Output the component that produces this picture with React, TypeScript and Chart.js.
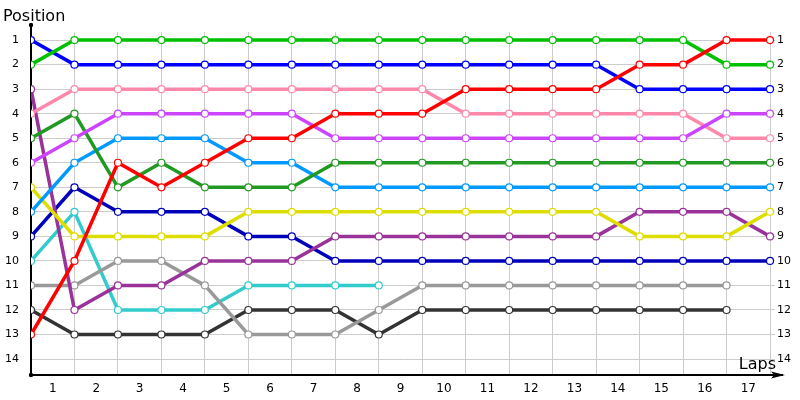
import React, { useEffect, useRef } from 'react';
import { Chart, registerables } from 'chart.js';

Chart.register(...registerables);

// ---- Data ----
const laps = [0, 1, 2, 3, 4, 5, 6, 7, 8, 9, 10, 11, 12, 13, 14, 15, 16, 17];
const lapLabels = ['1', '2', '3', '4', '5', '6', '7', '8', '9', '10', '11', '12', '13', '14', '15', '16', '17'];
const positionTicks = [1, 2, 3, 4, 5, 6, 7, 8, 9, 10, 11, 12, 13, 14];

const redSeries = [13, 10, 6, 7, 6, 5, 5, 4, 4, 4, 3, 3, 3, 3, 2, 2, 1, 1];
const greenSeries = [2, 1, 1, 1, 1, 1, 1, 1, 1, 1, 1, 1, 1, 1, 1, 1, 2, 2];
const blueSeries = [1, 2, 2, 2, 2, 2, 2, 2, 2, 2, 2, 2, 2, 2, 3, 3, 3, 3];
const violetSeries = [6, 5, 4, 4, 4, 4, 4, 5, 5, 5, 5, 5, 5, 5, 5, 5, 4, 4];
const pinkSeries = [4, 3, 3, 3, 3, 3, 3, 3, 3, 3, 4, 4, 4, 4, 4, 4, 5, 5];
const darkGreenSeries = [5, 4, 7, 6, 7, 7, 7, 6, 6, 6, 6, 6, 6, 6, 6, 6, 6, 6];
const skySeries = [8, 6, 5, 5, 5, 6, 6, 7, 7, 7, 7, 7, 7, 7, 7, 7, 7, 7];
const yellowSeries = [7, 9, 9, 9, 9, 8, 8, 8, 8, 8, 8, 8, 8, 8, 9, 9, 9, 8];
const purpleSeries = [3, 12, 11, 11, 10, 10, 10, 9, 9, 9, 9, 9, 9, 9, 8, 8, 8, 9];
const navySeries = [9, 7, 8, 8, 8, 9, 9, 10, 10, 10, 10, 10, 10, 10, 10, 10, 10, 10];
const graySeries = [11, 11, 10, 10, 11, 13, 13, 13, 12, 11, 11, 11, 11, 11, 11, 11, 11, null];
const darkSeries = [12, 13, 13, 13, 13, 12, 12, 12, 13, 12, 12, 12, 12, 12, 12, 12, 12, null];
const cyanSeries = [10, 8, 12, 12, 12, 11, 11, 11, 11, null, null, null, null, null, null, null, null, null];

const seriesList = [
  { name: 'Red', color: '#ff0000', data: redSeries },
  { name: 'Green', color: '#00c000', data: greenSeries },
  { name: 'Blue', color: '#0000ff', data: blueSeries },
  { name: 'Violet', color: '#cc44ff', data: violetSeries },
  { name: 'Pink', color: '#ff88aa', data: pinkSeries },
  { name: 'Dark green', color: '#229922', data: darkGreenSeries },
  { name: 'Sky', color: '#0099ff', data: skySeries },
  { name: 'Yellow', color: '#dddd00', data: yellowSeries },
  { name: 'Purple', color: '#993399', data: purpleSeries },
  { name: 'Navy', color: '#0000bb', data: navySeries },
  { name: 'Gray', color: '#999999', data: graySeries },
  { name: 'Dark', color: '#333333', data: darkSeries },
  { name: 'Cyan', color: '#33cccc', data: cyanSeries },
];

const yTitle = 'Position';
const xTitle = 'Laps';
const FONT = '"DejaVu Sans", Verdana, sans-serif';

const axisDecor = {
  id: 'axisDecor',
  afterDraw(chart: any) {
    const { ctx, chartArea } = chart;
    const x0 = chartArea.left;
    const y0 = chartArea.bottom;
    ctx.save();
    ctx.strokeStyle = '#000';
    ctx.fillStyle = '#000';
    ctx.lineWidth = 2;
    // y axis extension upward
    ctx.beginPath();
    ctx.moveTo(x0, chartArea.top + 1);
    ctx.lineTo(x0, chartArea.top - 7);
    ctx.stroke();
    ctx.beginPath();
    ctx.arc(x0, chartArea.top - 7, 2.2, 0, Math.PI * 2);
    ctx.fill();
    ctx.beginPath();
    ctx.arc(x0, y0, 2.2, 0, Math.PI * 2);
    ctx.fill();
    // x axis extension and arrow
    ctx.beginPath();
    ctx.moveTo(chartArea.right - 1, y0);
    ctx.lineTo(chartArea.right + 8, y0);
    ctx.stroke();
    ctx.beginPath();
    ctx.moveTo(chartArea.right + 10, y0);
    ctx.lineTo(chartArea.right - 4, y0 - 3.5);
    ctx.lineTo(chartArea.right - 1, y0);
    ctx.lineTo(chartArea.right - 4, y0 + 3.5);
    ctx.closePath();
    ctx.fill();
    // titles
    ctx.font = '16px ' + FONT;
    ctx.textBaseline = 'alphabetic';
    ctx.textAlign = 'left';
    ctx.fillText(yTitle, 3, 21);
    ctx.textAlign = 'right';
    ctx.fillText(xTitle, chartArea.right + 1, y0 - 6);
    ctx.restore();
  },
};

export default function App() {
  const canvasRef = useRef<HTMLCanvasElement | null>(null);

  useEffect(() => {
    const canvas = canvasRef.current;
    if (!canvas) return;
    const chart = new Chart(canvas, {
      type: 'line',
      data: {
        labels: laps,
        datasets: seriesList.map((s) => ({
          label: s.name,
          data: s.data,
          borderColor: s.color,
          backgroundColor: s.color,
          borderWidth: 3.5,
          pointRadius: 3.5,
          pointBorderWidth: 1.2,
          pointBackgroundColor: '#ffffff',
          pointBorderColor: s.color,
          tension: 0,
          spanGaps: false,
          yAxisID: 'y',
          xAxisID: 'x',
        })),
      },
      options: {
        responsive: false,
        animation: false,
        events: [],
        layout: { padding: { top: 32, left: 0, right: 0, bottom: 0 } },
        plugins: {
          legend: { display: false },
          tooltip: { enabled: false },
          title: { display: false },
        },
        scales: {
          x: {
            type: 'linear',
            position: 'bottom',
            min: 0,
            max: 17.115,
            afterBuildTicks: (scale: any) => {
              scale.ticks = lapLabels.map((_, i) => ({ value: i + 0.5 }));
            },
            afterFit: (scale: any) => {
              scale.height = 25;
            },
            grid: { offset: true, color: '#cccccc', lineWidth: 1, drawTicks: false },
            border: { display: true, color: '#000000', width: 2 },
            ticks: {
              autoSkip: false,
              maxRotation: 0,
              padding: 7,
              color: '#000000',
              font: { family: FONT, size: 12 },
              callback: (_v: any, i: number) => lapLabels[i],
            },
          },
          y: {
            type: 'linear',
            position: 'left',
            reverse: true,
            min: 0.67,
            max: 14.65,
            afterBuildTicks: (scale: any) => {
              scale.ticks = positionTicks.map((v) => ({ value: v }));
            },
            afterFit: (scale: any) => {
              scale.width = 31;
            },
            grid: { color: '#cccccc', lineWidth: 1, drawTicks: false },
            border: { display: true, color: '#000000', width: 2 },
            ticks: {
              autoSkip: false,
              padding: 12,
              color: '#000000',
              font: { family: FONT, size: 11 },
              callback: (v: any) => String(v),
            },
          },
          y2: {
            type: 'linear',
            position: 'right',
            reverse: true,
            min: 0.67,
            max: 14.65,
            afterBuildTicks: (scale: any) => {
              scale.ticks = positionTicks.map((v) => ({ value: v }));
            },
            afterFit: (scale: any) => {
              scale.width = 25;
            },
            grid: { display: false, drawTicks: false },
            border: { display: false },
            ticks: {
              autoSkip: false,
              padding: 2,
              color: '#000000',
              font: { family: FONT, size: 11 },
              callback: (v: any) => String(v),
            },
          },
        },
      },
      plugins: [axisDecor],
    });
    return () => chart.destroy();
  }, []);

  return (
    <div style={{ position: 'fixed', left: 0, top: 0, width: 800, height: 400, background: '#fff' }}>
      <canvas ref={canvasRef} width={800} height={400} style={{ display: 'block' }} />
    </div>
  );
}
